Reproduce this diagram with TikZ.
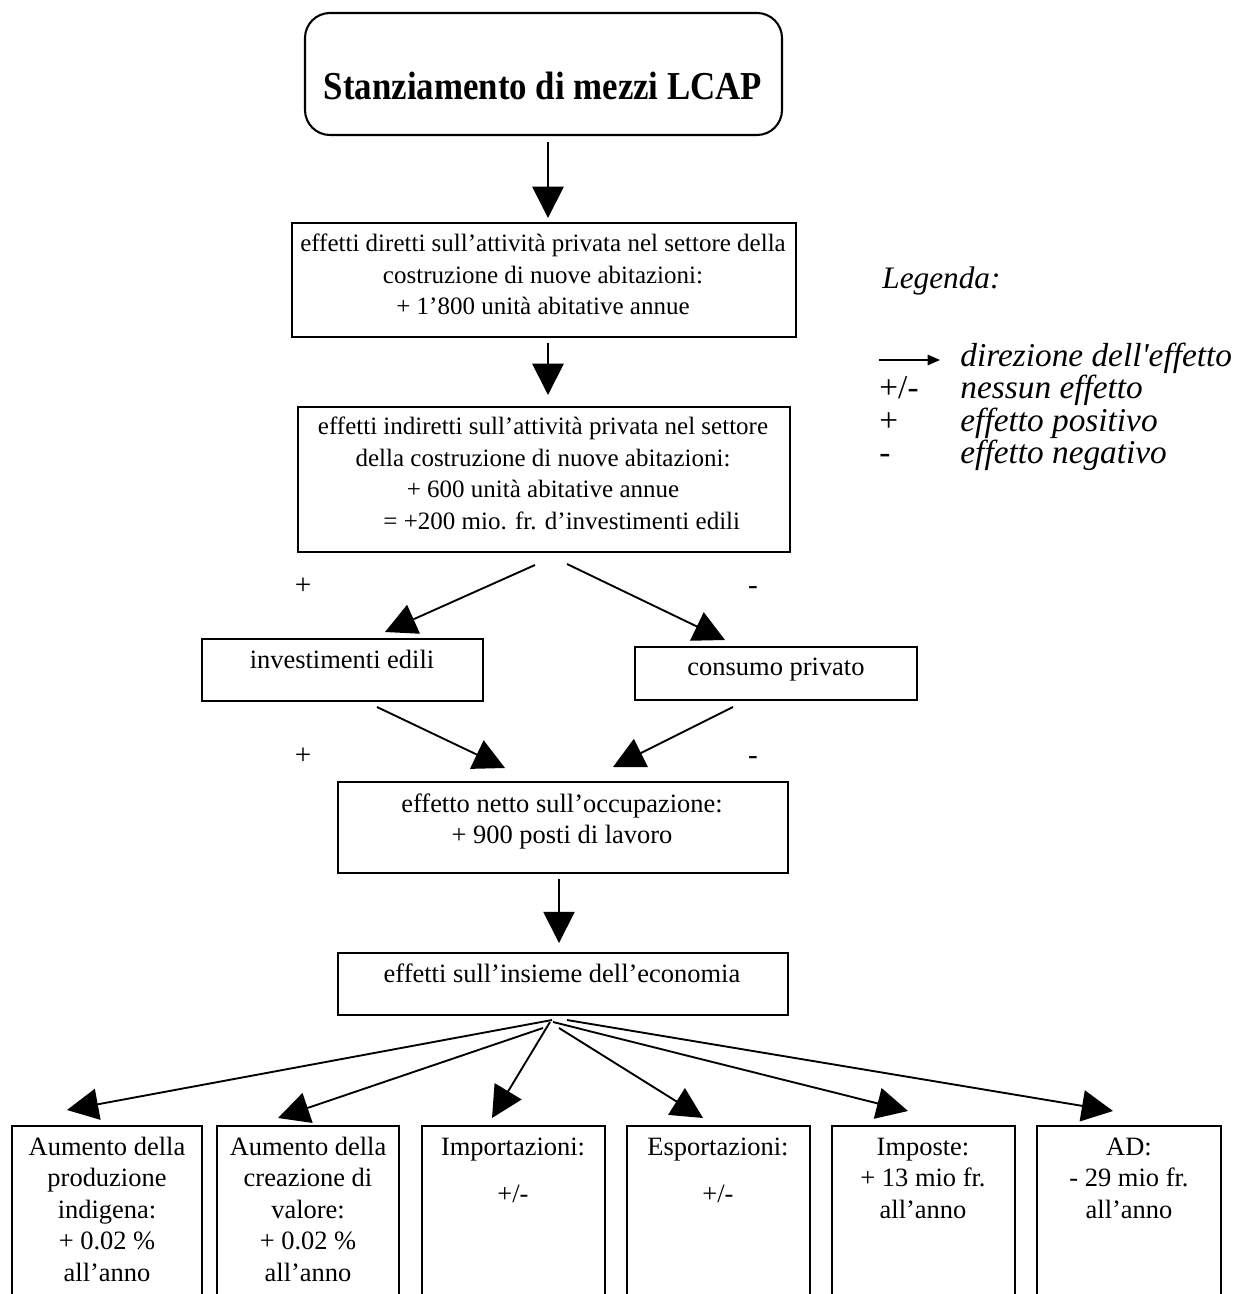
\documentclass[tikz,border=0pt]{standalone}
\usepackage{fontspec}
\setmainfont{Liberation Serif}
\usetikzlibrary{arrows.meta,fit}
\begin{document}
\begin{tikzpicture}[x=0.48pt,y=-0.48pt,
  box/.style={draw, line width=1pt, inner sep=0pt},
  txt/.style={font=\fontsize{12.7}{15.12}\selectfont, align=center, inner sep=0pt, anchor=base},
  txts/.style={txt, font=\fontsize{12}{15.12}\selectfont},
  arr/.style={line width=0.9pt, -{Triangle[length=15pt,width=15pt]}},
  sgn/.style={font=\fontsize{14}{16}\selectfont, inner sep=0pt, anchor=base},
  leg/.style={font=\fontsize{16}{19}\selectfont\itshape, anchor=base west, inner sep=0pt},
  legs/.style={font=\fontsize{16}{19}\selectfont, anchor=base west, inner sep=0pt}]
\useasboundingbox (0,0) rectangle (1241,1294);
\clip (0,0) rectangle (1241,1294);

% boxes
\node[box, rounded corners=12pt, fit={(305,13) (782,135)}] (top) {};
\node[box, fit={(292,223) (796,337)}] (dir) {};
\node[box, fit={(298,407) (790,552)}] (ind) {};
\node[box, fit={(202,639) (483,701)}] (inv) {};
\node[box, fit={(635,647) (917,700)}] (cons) {};
\node[box, fit={(338,782) (788,873)}] (net) {};
\node[box, fit={(338,953) (788,1015)}] (eco) {};
\node[box, fit={(12,1126) (202,1320)}] (b1) {};
\node[box, fit={(217,1126) (399,1320)}] (b2) {};
\node[box, fit={(422,1126) (605,1320)}] (b3) {};
\node[box, fit={(627,1126) (810,1320)}] (b4) {};
\node[box, fit={(832,1126) (1015,1320)}] (b5) {};
\node[box, fit={(1037,1126) (1221,1320)}] (b6) {};

% texts (base anchor = baseline of the last line)
\node[anchor=base, inner sep=0pt] (ttl) at (543,100)
  {\scalebox{0.88}[1]{\fontsize{19}{22}\selectfont\bfseries Stanziamento di mezzi LCAP}};
\node[txts] (tdir) at (543,315) {effetti diretti sull’attività privata nel settore della\\costruzione di nuove abitazioni:\\+ 1’800 unità abitative annue};
\node[txts] (tind) at (543,529.5) {effetti indiretti sull’attività privata nel settore\\della costruzione di nuove abitazioni:\\+ 600 unità abitative annue\\\hspace*{18pt}= +200 mio. fr. d’investimenti edili};
\node[txt] (tinv) at (342,668) {investimenti edili};
\node[txt] (tcons) at (776,675) {consumo privato};
\node[txt] (tnet) at (562,843.5) {effetto netto sull’occupazione:\\+ 900 posti di lavoro};
\node[txt] (teco) at (562,982) {effetti sull’insieme dell’economia};
\node[txt] (tb1) at (107,1281) {Aumento della\\produzione\\indigena:\\+ 0.02 \%\\all’anno};
\node[txt] (tb2) at (308,1281) {Aumento della\\creazione di\\valore:\\+ 0.02 \%\\all’anno};
\node[txt] (tb3) at (513,1202) {Importazioni:\\[7.4pt]+/-};
\node[txt] (tb4) at (718,1202) {Esportazioni:\\[7.4pt]+/-};
\node[txt] (tb5) at (923,1218) {Imposte:\\+ 13 mio fr.\\all’anno};
\node[txt] (tb6) at (1129,1218) {AD:\\- 29 mio fr.\\all’anno};

% signs
\node[sgn] (p1) at (303,594) {+};
\node[sgn] (m1) at (753,594) {-};
\node[sgn] (p2) at (303,764) {+};
\node[sgn] (m2) at (753,764) {-};

% legend
\node[leg, font=\fontsize{15}{18}\selectfont\itshape] (lgd) at (882,289) {Legenda:};
\coordinate (la1) at (879,360);
\coordinate (la2) at (940,360);
\draw[line width=0.9pt, -{Triangle[length=6pt,width=5pt]}] (la1) -- (la2);
\node[leg] (l1) at (960,367) {direzione dell\textquotesingle effetto};
\node[legs] (s2) at (879,399) {+/-};
\node[leg] (l2) at (960,399) {nessun effetto};
\node[legs] (s3) at (879,431) {+};
\node[leg] (l3) at (960,431) {effetto positivo};
\node[legs] (s4) at (879,463) {-};
\node[leg] (l4) at (960,463) {effetto negativo};

% arrow end points
\coordinate (v1a) at (548,142); \coordinate (v1b) at (548,218);
\coordinate (v2a) at (548,343); \coordinate (v2b) at (548,395);
\coordinate (l1a) at (535,565); \coordinate (l1b) at (385,632);
\coordinate (r1a) at (567,564); \coordinate (r1b) at (725,640);
\coordinate (l2a) at (377,707); \coordinate (l2b) at (505,768);
\coordinate (r2a) at (733,707); \coordinate (r2b) at (613,767);
\coordinate (v3a) at (559,879); \coordinate (v3b) at (559,943);
\coordinate (f1a) at (552,1020); \coordinate (f1b) at (67,1110);
\coordinate (f2a) at (543,1028); \coordinate (f2b) at (278,1118);
\coordinate (f3a) at (550,1022); \coordinate (f3b) at (492,1118);
\coordinate (f4a) at (559,1028); \coordinate (f4b) at (703,1118);
\coordinate (f5a) at (553,1022); \coordinate (f5b) at (908,1111);
\coordinate (f6a) at (567,1020); \coordinate (f6b) at (1113,1111);

\foreach \s in {v1,v2,l1,r1,l2,r2,v3,f1,f2,f3,f4,f5,f6}
  \draw[arr] (\s a) -- (\s b);
\end{tikzpicture}
\end{document}
